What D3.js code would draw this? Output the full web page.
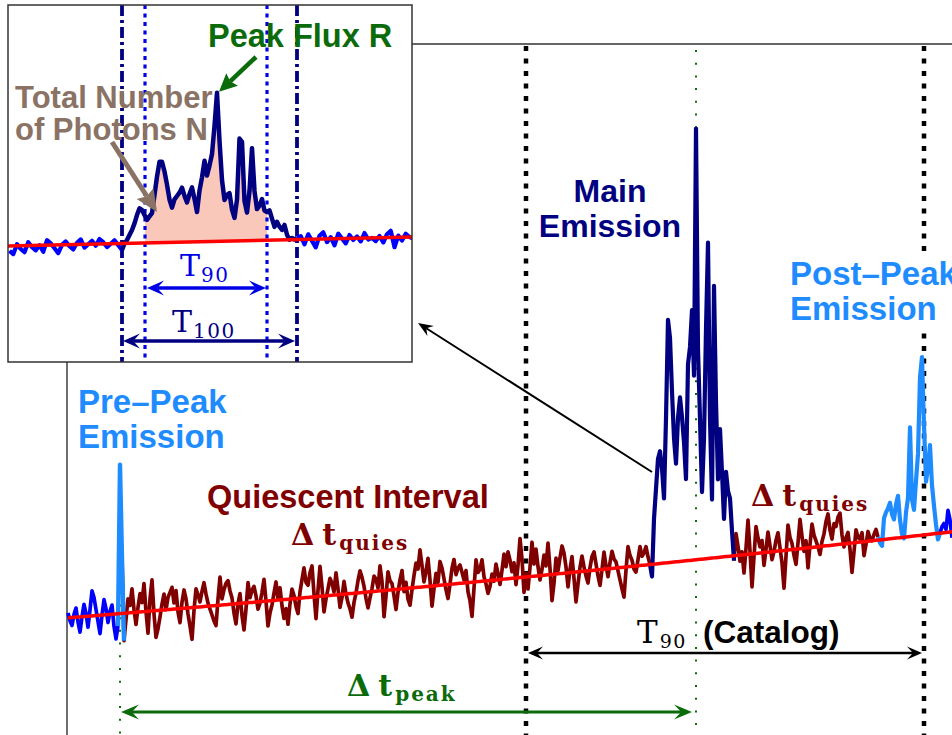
<!DOCTYPE html>
<html>
<head>
<meta charset="utf-8">
<script src="https://cdn.jsdelivr.net/npm/d3@7"></script>
<style>
  body { margin: 0; background: #fff; }
  svg { display: block; }
  .lbl { font-family: "Liberation Sans", Arial, Helvetica, sans-serif; font-weight: bold; }
  .math { font-family: "DejaVu Serif", "Liberation Serif", serif; }
</style>
</head>
<body>
<svg id="chart" width="952" height="735"></svg>
<script>
// ---------------- Light curve of the full burst ----------------
// Background fit: counts = a + b*t + c*t^2  (t in s)
const bgPoly = [199, 0.541, 0.0005];

// Net counts above background, 0.5 s bins. Each series: start time, bin width, values.
const preQuietStart = -13, preQuietStep = 0.5;
const preQuietNet = [8, -5, -13, 5, 15, -8, -25, 0, 20, 5, -18, 10, 41, 30, 10, -10,
                     -30, 0, 25, 10, -13, 5, 15, -20, -41, -20];

const prePeakStart = 0, prePeakStep = 0.5;
const prePeakNet = [244, 90];

const quiet1Start = 1, quiet1Step = 0.5;
const quiet1Net = [
  -45, -10, 23, 12, 39, 5, -20, 8, 30, 15, 46, 0, -36, 20, 51, -5, -44, -30, -11, 10,
  26, 0, 20, 28, 36, 10, 30, -5, -23, 10, 30, 15, -10, -30, -52, -5, 30, 20, 8, 25,
  39, 20, 5, -5, -15, -25, -33, 10, 46, 10, 25, 35, 39, 22, 10, -15, -33, 0, 16, -20,
  -44, -10, 33, 8, 20, 26, 10, -12, -2, 15, 36, 0, -41, -20, -7, 12, 30, 2, 20, -10,
  -31, -15, -41, -8, 16, 5, -13, -25, 10, 30, 49, 25, 20, 40, 51, 5, -36, 10, 49, 15,
  -26, -5, 11, 28, 20, 5, 36, 10, -21, -5, 21, 0, -15, -25, -39, -15, 0, 20, 36, 25,
  10, -10, -26, -10, 5, 25, 20, 5, 41, 15, -43, -10, 30, 15, 10, -10, -33, -5, 15, 30,
  -5, 10, -18, -28, -3, 20, 40, 30, 61, 35, 8, 25, 46, 10, -33, -5, 20, 5, 39, 28,
  10, -8, -23, 0, 26, 40, 15, 25, 30, 18, 5, 20, -15, -30, -56, -10, 36, 15, 20, 35,
  7, -5, -21, -10, 10, -2, 26, 10, -8, 15, 41, 20, 44, 30, 11, 25, -11, 20, 64, 30,
  -25, 5, -20, 15, 56, 20, 44, 15, -7, 10, 33, 15, 52, 10, -43, -15, 26, 5, 26, 45,
  33, 10, -23, 5, 26, -10, -49, -20, 7, 25, 7, -8, -20, 5, 23, 30, 10, -10, -26, 0,
  28, 5, -13, 10, 28, 15, 10, -5, -20, -35, -49, -5, 33, 18, 10, -5, -10, 10, 31, 15,
  20, 30, 13, 0
];

const mainStart = 133, mainStep = 0.5;
const mainNet = [
  -20, 74, 123, 172, 184, 156, 106, 237, 398, 368,
  280, 203, 161, 236, 269, 236, 195, 134, 322, 350,
  410, 302, 707, 345, 230, 110, 197, 377, 518, 228,
  96, 446, 256, 128, 210, 139, 62, 139, 107, 95,
  41, -8
];

const quiet2Start = 154, quiet2Step = 0.5;
const quiet2Net = [
  36, 15, -10, 5, -30, 10, 56, 5, -54, -5, 44, 25, 10, 20, -21, 5, 33, 10, -13, 0,
  18, 30, 5, -20, -62, -10, 41, 20, 10, -10, -25, 10, 48, 20, -5, 12, -33, 5, 38, 20,
  10, 0, -13, 8, 20, 40, 52, 25, 10, 35, 30, 45, 51, 15, -5, 10, 18, -10, -48, -15,
  21, 8, 5, 15, -23, -5, 16, 5, 0, 10, 18, 5
];

const postPeakStart = 190, postPeakStep = 0.5;
const postPeakNet = [
  -5, -10, 35, 44, 50, 59, 40, 31, 55, 69,
  30, 5, -2, 40, 64, 179, 60, 43, 90, 134,
  259, 292, 180, 87, 110, 146, 80, 46, 15, -10, 0
];

const postQuietStart = 205.5, postQuietStep = 0.5;
const postQuietNet = [10, 15, 5, 36, 20, -10];

// Durations (s)
const t90Catalog = [101.5, 201];
const peakTime = 144;
const prePeakTime = 0;

// ---------------- Zoomed main emission (inset) ----------------
const insetBgPoly = [71.85, 0.034];

const insetPreStart = -45, insetPreStep = 1.5;
const insetPreNet = [-3, -5, 1, -2, -4, 2, -1, -3, 0, -4, 3, 1, -2, -5, 0,
                     2, -1, -3, 1, 3, -2, 0, 2, -1, 3, 1, -2, 0, 2, -1];

const insetBurstStart = 0, insetBurstStep = 1;
const insetBurstNet = [
  -4, 0, 2, 5, 8, 12, 17, 21, 20, 17,
  14, 16, 18, 29, 40, 49, 49, 43, 35, 26,
  21, 26, 28, 30, 33, 28, 24, 29, 33, 26,
  18, 31, 39, 49, 40, 46, 53, 70, 90, 61,
  37, 25, 28, 29, 19, 14, 25, 62, 60, 24,
  17, 30, 56, 30, 19, 21, 25, 18, 17, 18,
  13, 8, 11, 8, 6, 9, 3, 0, 1, 0, 1
];

const insetPostStart = 71.5, insetPostStep = 1.5;
const insetPostNet = [2, -3, 3, -1, -5, 2, 4, -2, 1, -4, 3, 0, -3, 2, -1, 1,
                      -2, 3, -1, 0, -2, 1, -3, 2, 4, -6, 1, -2, 2, 0, -1];

const insetT90 = [9.2, 58];
const insetT100 = [0, 70];

// ---------------- Colours ----------------
const C = {
  quiet: '#800000', main: '#000080', peakEm: '#1e8cff', blue: '#0000ff',
  fit: '#ff0000', green: '#0b6b0b', brown: '#8a7264', t90: '#0000e6',
  fill: '#f9c8ba', axis: '#333'
};

const svg = d3.select('#chart');

// ---------------- helpers ----------------
function series(start, step, vals) {
  return vals.map((v, i) => ({ t: start + i * step, v }));
}
function headPath(tx, ty, ang, len, wid, notch) {
  const ux = Math.cos(ang), uy = Math.sin(ang), px = -uy, py = ux;
  const bx = tx - ux * len, by = ty - uy * len;
  const nx = tx - ux * len * notch, ny = ty - uy * len * notch;
  return `M${tx},${ty}L${bx + px * wid / 2},${by + py * wid / 2}L${nx},${ny}` +
         `L${bx - px * wid / 2},${by - py * wid / 2}Z`;
}
function arrow(g, x1, y1, x2, y2, opt) {
  const ang = Math.atan2(y2 - y1, x2 - x1);
  const L = opt.len, inset = L * opt.notch;
  const sx = opt.both ? x1 + Math.cos(ang) * inset : x1;
  const sy = opt.both ? y1 + Math.sin(ang) * inset : y1;
  g.append('line')
    .attr('x1', sx).attr('y1', sy)
    .attr('x2', x2 - Math.cos(ang) * inset).attr('y2', y2 - Math.sin(ang) * inset)
    .attr('stroke', opt.color).attr('stroke-width', opt.width);
  g.append('path').attr('d', headPath(x2, y2, ang, L, opt.wid, opt.notch)).attr('fill', opt.color);
  if (opt.both) {
    g.append('path').attr('d', headPath(x1, y1, ang + Math.PI, L, opt.wid, opt.notch)).attr('fill', opt.color);
  }
}

// ---------------- main panel ----------------
const x = d3.scaleLinear().domain([-13, 208]).range([68, 952]);
const y = d3.scaleLinear().domain([0, 1000]).range([735, 125]);
const bg = t => bgPoly[0] + bgPoly[1] * t + bgPoly[2] * t * t;

const main = svg.append('g');

// axes frame (extends past the right/bottom edge)
main.append('path')
  .attr('d', `M67,740V44H960`)
  .attr('fill', 'none').attr('stroke', C.axis).attr('stroke-width', 1.4);

// vertical markers
const vline = (t, color, w, dash, yTop) => main.append('line')
  .attr('x1', x(t)).attr('x2', x(t)).attr('y1', yTop).attr('y2', 740)
  .attr('stroke', color).attr('stroke-width', w).attr('stroke-dasharray', dash);

t90Catalog.forEach(t => vline(t, '#000', 4.5, '5,7.5', 46));
vline(peakTime, C.green, 2, '2,10.7', 50);
vline(prePeakTime, C.green, 2, '2,10.7', y(bg(prePeakTime) + prePeakNet[0]));

// light-curve segments
const segDefs = [
  { pts: series(preQuietStart, preQuietStep, preQuietNet), color: C.blue, w: 3.7 },
  { pts: series(prePeakStart, prePeakStep, prePeakNet), color: C.peakEm, spike: true, w: 4.4 },
  { pts: series(quiet1Start, quiet1Step, quiet1Net), color: C.quiet, w: 3.7 },
  { pts: series(mainStart, mainStep, mainNet), color: C.main, w: 4.2 },
  { pts: series(quiet2Start, quiet2Step, quiet2Net), color: C.quiet, w: 3.7 },
  { pts: series(postPeakStart, postPeakStep, postPeakNet), color: C.peakEm, w: 4.2 },
  { pts: series(postQuietStart, postQuietStep, postQuietNet), color: C.blue, w: 3.7 }
];
segDefs.forEach((s, i) => {
  let pts = s.pts.slice();
  if (i > 0) pts.unshift(segDefs[i - 1].pts[segDefs[i - 1].pts.length - 1]);
  if (s.spike && i < segDefs.length - 1) pts.push(segDefs[i + 1].pts[0]);
  s.path = pts;
});
const lc = d3.line().x(d => x(d.t)).y(d => y(bg(d.t) + d.v));
// dark red first, bursts on top
[2, 4, 0, 6, 3, 5, 1].forEach(i => {
  const s = segDefs[i];
  main.append('path').datum(s.path)
    .attr('d', lc).attr('fill', 'none')
    .attr('stroke', s.color).attr('stroke-width', s.w)
    .attr('stroke-linejoin', 'round');
});

// background fit line
const fitT = d3.range(-13, 209, 1);
main.append('path').datum(fitT)
  .attr('d', d3.line().x(t => x(t)).y(t => y(bg(t))).curve(d3.curveMonotoneX))
  .attr('fill', 'none').attr('stroke', C.fit).attr('stroke-width', 3.5);

// duration arrows
const yCat = 653, yPeak = 712;
arrow(main, x(t90Catalog[0]) + 2, yCat, x(t90Catalog[1]) - 2, yCat,
  { color: '#000', width: 2.5, len: 15, wid: 13, notch: 0.6, both: true });
arrow(main, x(prePeakTime) + 1, yPeak, x(peakTime) - 4, yPeak,
  { color: C.green, width: 3, len: 18, wid: 15, notch: 0.6, both: true });

// pointer from the main emission to the inset
arrow(main, 652, 472, 418, 323,
  { color: '#000', width: 2, len: 15, wid: 12, notch: 0.65, both: false });

// labels
main.append('rect').attr('x', 786).attr('y', 252).attr('width', 170).attr('height', 79).attr('fill', '#fff');
const lbl = (g, tx, ty, txt, color, size) => g.append('text')
  .attr('class', 'lbl').attr('x', tx).attr('y', ty).attr('fill', color)
  .attr('font-size', size).text(txt);

lbl(main, 610, 202, 'Main', C.main, 32).attr('text-anchor', 'middle');
lbl(main, 610, 237, 'Emission', C.main, 32).attr('text-anchor', 'middle');
lbl(main, 790, 285, 'Post\u2013Peak', C.peakEm, 33);
lbl(main, 790, 320, 'Emission', C.peakEm, 33);
lbl(main, 78, 413, 'Pre\u2013Peak', C.peakEm, 33);
lbl(main, 78, 448, 'Emission', C.peakEm, 33);
lbl(main, 207, 508, 'Quiescent Interval', C.quiet, 32.5);

function mathLabel(g, tx, ty, main1, sub, color, size, subSize, gap) {
  const t = g.append('text').attr('class', 'math').attr('x', tx).attr('y', ty)
    .attr('fill', color).attr('font-size', size);
  t.append('tspan').text(main1);
  t.append('tspan').attr('font-size', subSize).attr('dy', subSize * 0.28)
    .attr('dx', gap).attr('letter-spacing', 1.5).text(sub);
  return t;
}
function deltaT(g, tx, ty, sub, color) {
  const t = g.append('text').attr('class', 'math').attr('x', tx).attr('y', ty)
    .attr('fill', color).attr('font-size', 30);
  t.append('tspan').attr('font-weight', 'bold').text('\u0394');
  t.append('tspan').attr('dx', 8).attr('font-weight', 'bold').text('t');
  t.append('tspan').attr('font-size', 20).attr('dy', 5).attr('dx', 3)
    .attr('letter-spacing', 2).attr('font-weight', 'bold').text(sub);
}
deltaT(main, 291, 545, 'quies', C.quiet);
deltaT(main, 751, 506, 'quies', C.quiet);
deltaT(main, 347, 696, 'peak', C.green);

mathLabel(main, 637, 643, 'T', '90', '#000', 31, 19, 2);
lbl(main, 703, 643, '(Catalog)', '#000', 31.5);

// ---------------- inset: zoom on the main emission ----------------
const ib = { x0: 8, y0: 5, x1: 412, y1: 362 };
const ix = d3.scaleLinear().domain([-45.6, 116]).range([ib.x0, ib.x1]);
const iy = d3.scaleLinear().domain([0, 200]).range([ib.y1, 32]);
const ibg = t => insetBgPoly[0] + insetBgPoly[1] * t;

const inset = svg.append('g');
inset.append('rect').attr('x', ib.x0).attr('y', ib.y0)
  .attr('width', ib.x1 - ib.x0).attr('height', ib.y1 - ib.y0).attr('fill', '#fff');
svg.append('clipPath').attr('id', 'insetClip').append('rect')
  .attr('x', ib.x0).attr('y', ib.y0).attr('width', ib.x1 - ib.x0).attr('height', ib.y1 - ib.y0);
const ic = inset.append('g').attr('clip-path', 'url(#insetClip)');

const burst = series(insetBurstStart, insetBurstStep, insetBurstNet);
const pre = series(insetPreStart, insetPreStep, insetPreNet);
const post = series(insetPostStart, insetPostStep, insetPostNet);

// photons inside T90
const inT90 = burst.filter(d => d.t >= Math.floor(insetT90[0]) && d.t <= insetT90[1]);
ic.append('path').datum(inT90)
  .attr('d', d3.area().x(d => ix(Math.max(d.t, insetT90[0])))
    .y0(d => iy(ibg(d.t))).y1(d => iy(ibg(d.t) + d.v)))
  .attr('fill', C.fill);

// vertical duration markers
const ivline = (t, color, w, dash) => ic.append('line')
  .attr('x1', ix(t)).attr('x2', ix(t)).attr('y1', ib.y0).attr('y2', ib.y1)
  .attr('stroke', color).attr('stroke-width', w).attr('stroke-dasharray', dash);
insetT100.forEach(t => ivline(t, C.main, 3.8, '11,4,3,4'));
insetT90.forEach(t => ivline(t, C.t90, 3.2, '4,4.5'));

const il = d3.line().x(d => ix(d.t)).y(d => iy(ibg(d.t) + d.v));
ic.append('path').datum(pre.concat([burst[0]])).attr('d', il)
  .attr('fill', 'none').attr('stroke', C.blue).attr('stroke-width', 4.2).attr('stroke-linejoin', 'round');
ic.append('path').datum([burst[burst.length - 1]].concat(post)).attr('d', il)
  .attr('fill', 'none').attr('stroke', C.blue).attr('stroke-width', 4.2).attr('stroke-linejoin', 'round');
ic.append('path').datum(burst).attr('d', il)
  .attr('fill', 'none').attr('stroke', C.main).attr('stroke-width', 4.5).attr('stroke-linejoin', 'round');

ic.append('line').attr('x1', ix(-45.6)).attr('x2', ix(116))
  .attr('y1', iy(ibg(-45.6))).attr('y2', iy(ibg(116)))
  .attr('stroke', C.fit).attr('stroke-width', 3.5);

inset.append('rect').attr('x', ib.x0).attr('y', ib.y0)
  .attr('width', ib.x1 - ib.x0).attr('height', ib.y1 - ib.y0)
  .attr('fill', 'none').attr('stroke', '#333').attr('stroke-width', 1.5);

// T90 / T100 arrows
arrow(inset, ix(insetT90[0]) + 2, 288, ix(insetT90[1]) - 1, 288,
  { color: C.t90, width: 3.5, len: 17, wid: 15, notch: 0.6, both: true });
arrow(inset, ix(insetT100[0]) + 1, 341, ix(insetT100[1]) - 2, 341,
  { color: C.main, width: 3.5, len: 17, wid: 15, notch: 0.6, both: true });
mathLabel(inset, 180, 276, 'T', '90', C.t90, 30, 20, 1);
mathLabel(inset, 172, 332, 'T', '100', C.main, 30, 20, 1);

// peak flux and photon-number annotations
lbl(inset, 208, 47, 'Peak Flux R', C.green, 32.5);
lbl(inset, 15, 108, 'Total Number', C.brown, 31);
lbl(inset, 15, 140, 'of Photons N', C.brown, 31);

const peakIdx = d3.maxIndex(insetBurstNet);
const pkX = ix(burst[peakIdx].t) + 2, pkY = iy(ibg(burst[peakIdx].t) + burst[peakIdx].v) - 1;
arrow(inset, 256, 57, pkX, pkY,
  { color: C.green, width: 4.5, len: 18, wid: 17, notch: 0.85, both: false });
arrow(inset, 112, 142, 157, 212,
  { color: C.brown, width: 5, len: 22, wid: 20, notch: 0.85, both: false });
</script>
</body>
</html>
